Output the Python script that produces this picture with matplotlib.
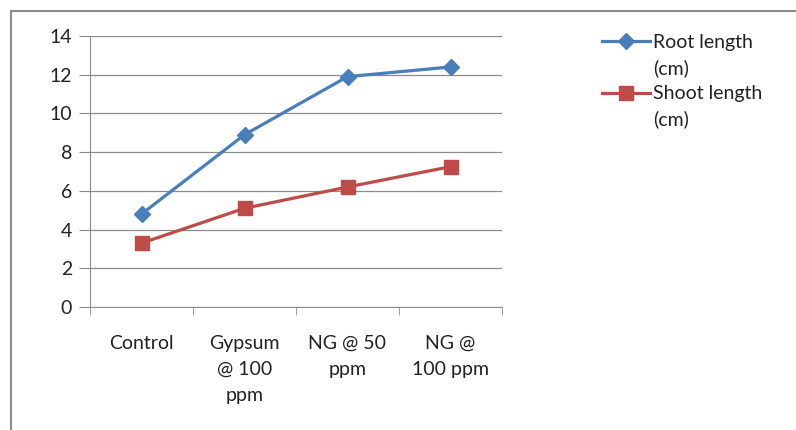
import numpy as np
import matplotlib
matplotlib.use('Agg')
from matplotlib import pyplot as plt
from matplotlib.patches import Rectangle
from matplotlib.lines import Line2D

# Data
categories = ['Control', 'Gypsum\n@ 100\nppm', 'NG @ 50\nppm', 'NG @\n100 ppm']
root_length = [4.8, 8.9, 11.9, 12.4]
shoot_length = [3.3, 5.1, 6.2, 7.25]
y_ticks = [0, 2, 4, 6, 8, 10, 12, 14]
series_names = ['Root length', 'Shoot length']
unit_label = '(cm)'

plt.rcParams['font.family'] = ['Lato', 'DejaVu Sans']

fig = plt.figure(figsize=(7.96, 4.30), dpi=100)
# outer chart border
fig.patches.append(Rectangle((11 / 796, -0.1), 1.2, 1 - 11 / 430 + 0.1,
                             transform=fig.transFigure, fill=False,
                             edgecolor='#8c8c8c', linewidth=1.5))
ax = fig.add_axes([90 / 796, 1 - 307 / 430, 412 / 796, 271 / 430])

x = np.arange(len(categories))
root_line, = ax.plot(x, root_length, color='#4a7ebb', linewidth=2.3, marker='D',
                     markersize=8.5)
shoot_line, = ax.plot(x, shoot_length, color='#be4b48', linewidth=2.3, marker='s',
                      markersize=10.5)

ax.set_xlim(-0.5, len(categories) - 0.5)
ax.set_ylim(0, 14)
ax.set_yticks(y_ticks)
ax.yaxis.grid(True, color='#8c8c8c', linewidth=0.9)
ax.set_axisbelow(True)

ax.set_xticks(x)
ax.set_xticklabels(categories, fontsize=14, color='#222222', linespacing=1.65)
ax.set_xticks(np.arange(-0.5, len(categories)), minor=True)
ax.tick_params(axis='x', which='major', length=0, pad=20)
ax.tick_params(axis='x', which='minor', length=6, color='#8c8c8c', direction='out')
ax.tick_params(axis='y', length=8, color='#8c8c8c', labelsize=14,
               labelcolor='#222222', pad=5)

for side in ['top', 'right']:
    ax.spines[side].set_visible(False)
for side in ['left', 'bottom']:
    ax.spines[side].set_color('#8c8c8c')

# legend: name next to the marker, unit on the line below (like the wrapped Excel legend)
blank = Line2D([], [], linestyle='none')
handles = [root_line, blank, shoot_line, blank]
labels = [series_names[0], unit_label, series_names[1], unit_label]
leg = fig.legend(handles, labels, loc='upper left',
                 bbox_to_anchor=(592 / 796, 1 - 24 / 430),
                 frameon=False, fontsize=14, handlelength=2.5,
                 handletextpad=0.15, labelspacing=0.43, borderpad=0)
for t in leg.get_texts():
    t.set_color('#222222')

fig.savefig('out.png', dpi=100)
